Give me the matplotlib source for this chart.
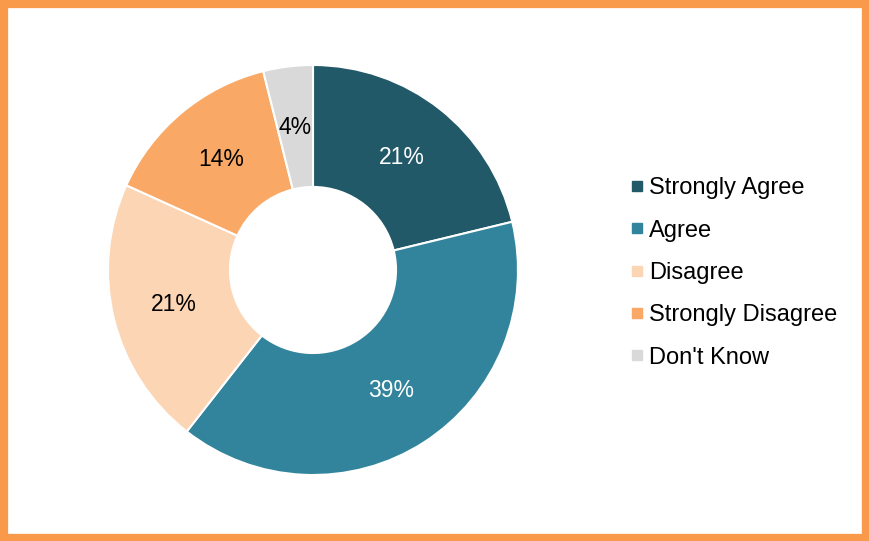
import matplotlib
matplotlib.use("Agg")
import matplotlib.pyplot as plt
from matplotlib.patches import Rectangle
from matplotlib.lines import Line2D

categories = ["Strongly Agree", "Agree", "Disagree", "Strongly Disagree", "Don't Know"]
values = [21.2, 39.3, 21.2, 14.3, 3.9]
colors = ["#215968", "#31849B", "#FCD5B5", "#F9A866", "#D9D9D9"]
text_colors = ["white", "white", "black", "black", "black"]

plt.rcParams['font.family'] = ['Liberation Sans', 'DejaVu Sans']

W, H = 869, 541
fig = plt.figure(figsize=(W / 100, H / 100), dpi=100)
fig.patch.set_facecolor("white")

cx, cy, R = 313, 270, 205
ax = fig.add_axes([(cx - R) / W, (H - cy - R) / H, 2 * R / W, 2 * R / H])
wedges, texts, autotexts = ax.pie(
    values, colors=colors, startangle=90, counterclock=False, radius=1.0,
    autopct="%.0f%%", pctdistance=0.70,
    wedgeprops=dict(width=0.595, edgecolor="white", linewidth=1.5),
    textprops=dict(fontsize=16.5),
)
for t, c in zip(autotexts, text_colors):
    t.set_color(c)
ax.set_xlim(-1, 1)
ax.set_ylim(-1, 1)
ax.set_aspect("equal")
ax.axis("off")

handles = [Line2D([0], [0], marker="s", linestyle="none", markersize=6.5,
                  markerfacecolor=c, markeredgecolor=c) for c in colors]
leg = fig.legend(handles, categories, loc="center left",
                 bbox_to_anchor=(632 / W, 1 - 273 / H), frameon=False,
                 fontsize=17, handlelength=0.4, handletextpad=0.31,
                 labelspacing=0.86, borderaxespad=0, borderpad=0)

border = Rectangle((0, 0), 1, 1, transform=fig.transFigure, fill=False,
                   edgecolor="#F9994A", linewidth=11, zorder=10)
fig.patches.append(border)

fig.savefig("out.png", dpi=100, facecolor="white")
